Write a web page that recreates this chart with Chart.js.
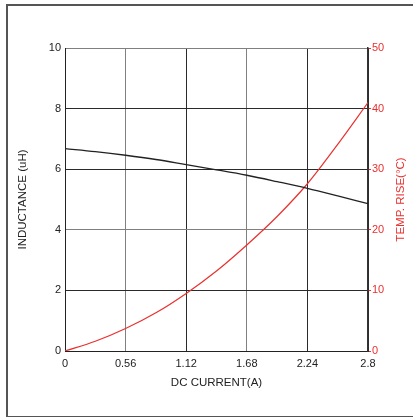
<!DOCTYPE html>
<html>
<head>
<meta charset="utf-8">
<script src="https://cdn.jsdelivr.net/npm/chart.js@4/dist/chart.umd.min.js"></script>
<style>
  html, body { margin: 0; padding: 0; background: #fff; overflow: hidden; }
  #frame { position: absolute; left: 6px; top: 4px; width: 420px; height: 410px;
           border-left: 2px solid #555; border-top: 2px solid #555; border-bottom: 2px solid #555; }
  #wrap { position: absolute; left: 0; top: 0; width: 413px; height: 417px; }
</style>
</head>
<body>
<div id="frame"></div>
<div id="wrap"><canvas id="chartCanvas"></canvas></div>
<script>
// DC current (A)
const current = [0, 0.28, 0.56, 0.84, 1.12, 1.4, 1.68, 1.96, 2.24, 2.52, 2.8];
// inductance (uH), left axis
const inductance = [6.68, 6.58, 6.46, 6.32, 6.15, 5.98, 5.80, 5.59, 5.37, 5.12, 4.86];
// temperature rise (°C), right axis
const tempRise = [0, 1.6, 3.7, 6.3, 9.5, 13.2, 17.5, 22.2, 27.6, 34.1, 41];

const xTicks = [0, 0.56, 1.12, 1.68, 2.24, 2.8];
const xTickLabels = ["0", "0.56", "1.12", "1.68", "2.24", "2.8"];
const leftTicks = [0, 2, 4, 6, 8, 10];
const rightTicks = [0, 10, 20, 30, 40, 50];

const RED = "#e8312f";
const FONT = "'Liberation Sans', Arial, sans-serif";

// axis titles drawn by hand so the right one reads bottom-to-top
const titles = {
  id: "titles",
  afterDraw(chart) {
    const { ctx, chartArea } = chart;
    const midY = (chartArea.top + chartArea.bottom) / 2;
    ctx.save();
    ctx.font = "11.5px " + FONT;
    ctx.textAlign = "center";
    ctx.textBaseline = "middle";
    ctx.fillStyle = "#222";
    ctx.fillText("DC CURRENT(A)", (chartArea.left + chartArea.right) / 2, 383);
    ctx.translate(23, midY);
    ctx.rotate(-Math.PI / 2);
    ctx.fillText("INDUCTANCE (uH)", 0, 0);
    ctx.restore();
    ctx.save();
    ctx.font = "11.5px " + FONT;
    ctx.textAlign = "center";
    ctx.textBaseline = "middle";
    ctx.fillStyle = RED;
    ctx.translate(401, midY);
    ctx.rotate(-Math.PI / 2);
    ctx.fillText("TEMP. RISE(°C)", 0, 0);
    ctx.restore();
  }
};

const gray = "#808080", dark = "#2a2a2a";

new Chart(document.getElementById("chartCanvas"), {
  type: "line",
  data: {
    datasets: [
      {
        label: "Inductance",
        data: current.map((c, i) => ({ x: c, y: inductance[i] })),
        borderColor: "#222",
        borderWidth: 1.3,
        pointRadius: 0,
        cubicInterpolationMode: "monotone",
        yAxisID: "y"
      },
      {
        label: "Temp rise",
        data: current.map((c, i) => ({ x: c, y: tempRise[i] })),
        borderColor: RED,
        borderWidth: 1.2,
        pointRadius: 0,
        cubicInterpolationMode: "monotone",
        yAxisID: "y1"
      }
    ]
  },
  options: {
    responsive: true,
    maintainAspectRatio: false,
    animation: false,
    layout: { padding: { left: 7, top: 48, right: 0, bottom: 0 } },
    plugins: { legend: { display: false }, tooltip: { enabled: false } },
    scales: {
      x: {
        type: "linear",
        min: 0,
        max: 2.8,
        afterBuildTicks: (s) => { s.ticks = xTicks.map(v => ({ value: v })); },
        afterFit: (s) => { s.height = 66; },
        ticks: {
          color: "#222",
          font: { size: 11, family: FONT },
          padding: 6,
          maxRotation: 0,
          autoSkip: false,
          callback: (v) => xTickLabels[xTicks.indexOf(v)]
        },
        grid: {
          drawTicks: false,
          color: (c) => (c.index === 1 || c.index === 3) ? gray : dark
        },
        border: { color: "#222", width: 1 }
      },
      y: {
        position: "left",
        min: 0,
        max: 10,
        afterBuildTicks: (s) => { s.ticks = leftTicks.map(v => ({ value: v })); },
        afterFit: (s) => { s.width = 58; },
        ticks: { color: "#222", font: { size: 11, family: FONT }, padding: 4 },
        grid: {
          drawTicks: false,
          color: (c) => (c.index === 2 || c.index === 5) ? gray : dark
        },
        border: { color: "#222", width: 1 }
      },
      y1: {
        position: "right",
        min: 0,
        max: 50,
        afterBuildTicks: (s) => { s.ticks = rightTicks.map(v => ({ value: v })); },
        afterFit: (s) => { s.width = 45; },
        ticks: { color: RED, font: { size: 11, family: FONT }, padding: 1 },
        grid: { drawOnChartArea: false, drawTicks: true, tickLength: 3, tickColor: RED },
        border: { color: "#333", width: 1.5 }
      }
    }
  },
  plugins: [titles]
});
</script>
</body>
</html>
